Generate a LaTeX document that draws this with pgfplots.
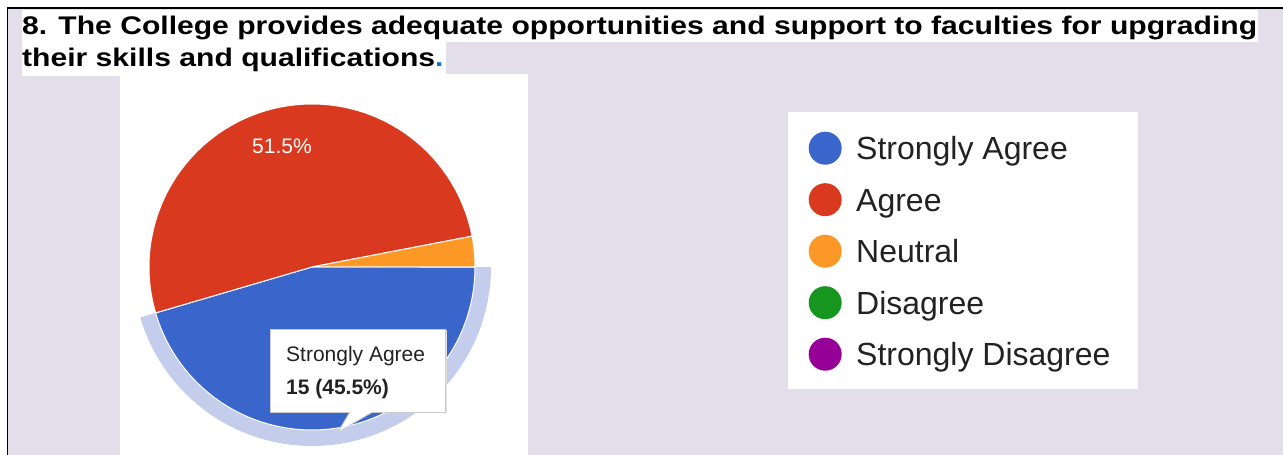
\documentclass[border=0pt]{standalone}
\usepackage{pgfplots}
\pgfplotsset{compat=1.18}
\usepackage{graphicx}
\usepackage{fontspec}
\setmainfont{Liberation Sans}
\definecolor{lav}{HTML}{E2DEEA}
\definecolor{cBlue}{HTML}{3A66CC}
\definecolor{cRed}{HTML}{D9391E}
\definecolor{cOrange}{HTML}{FC9826}
\definecolor{cGreen}{HTML}{16961F}
\definecolor{cPurple}{HTML}{960096}
\definecolor{ring}{HTML}{C4CEEC}
\definecolor{dot}{HTML}{0A72C8}
\definecolor{txt}{HTML}{222222}
% survey counts
\def\vSA{15}\def\vA{17}\def\vN{1}\def\vD{0}\def\vSD{0}
\pgfmathsetmacro\vTot{\vSA+\vA+\vN+\vD+\vSD}
\pgfmathsetmacro\aA{-360*\vSA/\vTot}
\pgfmathsetmacro\aB{\aA-360*\vA/\vTot}
\pgfmathsetmacro\aC{\aB-360*\vN/\vTot}
\def\cx{312}\def\cy{188}\def\R{163}\def\Rr{179}
\begin{document}
\begin{tikzpicture}[x=1pt,y=1pt]
\useasboundingbox (0,0) rectangle (1283,455);
\fill[white] (0,0) rectangle (1283,455);
\fill[lav] (8.25,0) rectangle (1283,446.25);
\draw[black, line width=1.5pt] (7.5,0) -- (7.5,447) -- (1283,447);
\fill[white] (22,413) rectangle (1258,445);
\fill[white] (22,379) rectangle (446,413.5);
\fill[white] (120,0) rectangle (528,381);
\node[anchor=base west, inner sep=0pt, font=\fontsize{25.5}{28}\selectfont\bfseries] at (22,420) {\scalebox{1.18}[1]{8. The College provides adequate opportunities and support to faculties for upgrading}};
\node[anchor=base west, inner sep=0pt, font=\fontsize{25.5}{28}\selectfont\bfseries] at (22,388.5) {\scalebox{1.18}[1]{their skills and qualifications\textcolor{dot}{.}}};
\fill[white] (788,66) rectangle (1138,343);
\begin{axis}[at={(0,0)}, anchor=south west, scale only axis, width=1283pt, height=455pt,
  xmin=0, xmax=1283, ymin=0, ymax=455, hide axis, clip=false,
  legend cell align=left,
  legend style={at={(808.5/1283,323.5/455)}, anchor=north west, draw=none, fill=none,
    inner sep=0pt, row sep=18.5pt,
    nodes={inner sep=0pt, text height=23pt, text depth=0pt, font=\fontsize{32}{36}\selectfont, text=txt}},
  legend image code/.code={\path[#1, draw=none] (16.5pt,0pt) circle[radius=16.5pt];},
  /tikz/every odd column/.append style={column sep=14.5pt},
]
% hover ring around the selected slice
\addplot[fill=ring, draw=none, domain=\aA:0, samples=120, forget plot] ({\cx+\Rr*cos(x)},{\cy+\Rr*sin(x)}) -- (axis cs:\cx,\cy) -- cycle;
\addplot[fill=cBlue, draw=white, line width=1pt, domain=\aA:0, samples=120] ({\cx+\R*cos(x)},{\cy+\R*sin(x)}) -- (axis cs:\cx,\cy) -- cycle;
\addlegendentry{Strongly Agree}
\addplot[fill=cRed, draw=white, line width=1pt, domain=\aB:\aA, samples=120] ({\cx+\R*cos(x)},{\cy+\R*sin(x)}) -- (axis cs:\cx,\cy) -- cycle;
\addlegendentry{Agree}
\addplot[fill=cOrange, draw=white, line width=1pt, domain=\aC:\aB, samples=20] ({\cx+\R*cos(x)},{\cy+\R*sin(x)}) -- (axis cs:\cx,\cy) -- cycle;
\addlegendentry{Neutral}
\addlegendimage{fill=cGreen}
\addlegendentry{Disagree}
\addlegendimage{fill=cPurple}
\addlegendentry{Strongly Disagree}
\end{axis}
\node[text=white, font=\fontsize{21}{24}\selectfont] at (282,309) {51.5\%};
% tooltip
\fill[black!12] (271.5,41.5) rectangle (447,125);
\fill[white, draw=black!20, line width=0.8pt] (270,43) rectangle (445,126);
\fill[white] (350,43.6) -- (338,23) -- (373,43.6) -- cycle;
\draw[black!20, line width=0.8pt] (350,43) -- (338,23) -- (373,43);
\node[anchor=base west, inner sep=0pt, text=txt, font=\fontsize{21}{24}\selectfont] at (286,93) {Strongly Agree};
\node[anchor=base west, inner sep=0pt, text=txt, font=\fontsize{21}{24}\selectfont\bfseries] at (286,60) {15 (45.5\%)};
\end{tikzpicture}
\end{document}
